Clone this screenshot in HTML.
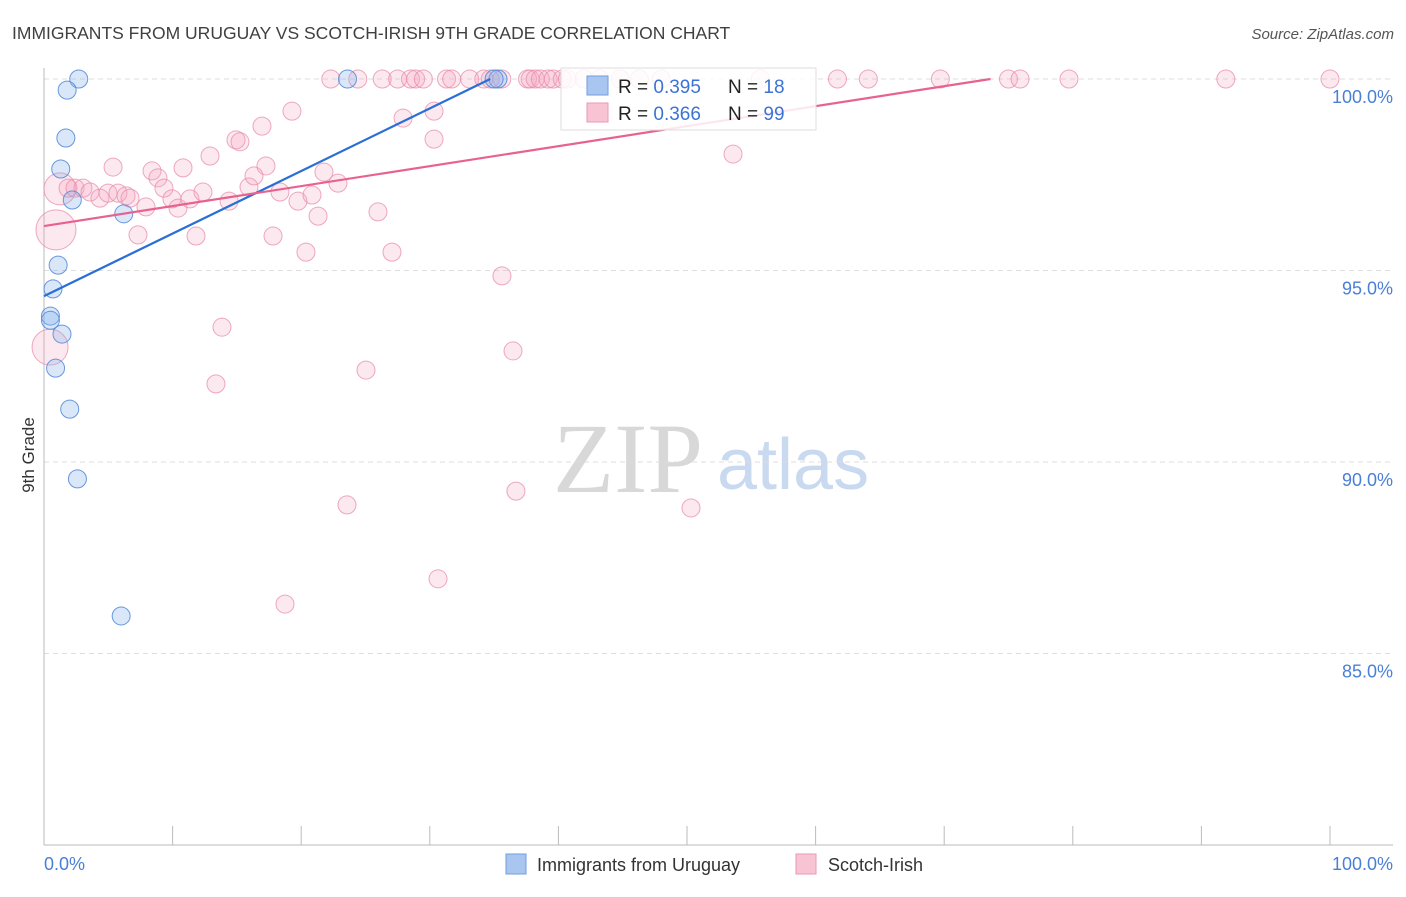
<!DOCTYPE html>
<html><head><meta charset="utf-8"><style>
body{margin:0;background:#fff;font-family:"Liberation Sans",sans-serif}
</style></head><body>
<svg id="chart" width="1406" height="892" viewBox="0 0 1406 892" font-family="Liberation Sans, sans-serif">
<text x="12" y="39" font-size="17.5" fill="#404040">IMMIGRANTS FROM URUGUAY VS SCOTCH-IRISH 9TH GRADE CORRELATION CHART</text>
<text x="1394" y="39" font-size="15" fill="#555" font-style="italic" text-anchor="end">Source: ZipAtlas.com</text>
<text x="34" y="455" font-size="17" fill="#333" text-anchor="middle" transform="rotate(-90 34 455)">9th Grade</text>
<g>
<text x="553" y="492" font-size="100" fill="#d8d8d8" style="font-family:'Liberation Serif',serif">ZIP</text>
<text x="717" y="489" font-size="72" fill="#c9d9f0">atlas</text>
</g>
<g id="grid"></g>
<g id="axes"></g>
<g id="pts"></g>
<g id="lines"></g>
<g>
<rect x="561" y="68" width="255" height="62" fill="#fff" fill-opacity="0.85" stroke="#ddd"/>
<rect x="587" y="76" width="21" height="19" fill="#a9c6f0" stroke="#6f9de0"/>
<text x="618" y="93" font-size="19" fill="#222">R = <tspan fill="#3b73d6">0.395</tspan></text>
<text x="728" y="93" font-size="19" fill="#222">N = <tspan fill="#3b73d6"> 18</tspan></text>
<rect x="587" y="103" width="21" height="19" fill="#f8c4d3" stroke="#e99ab2"/>
<text x="618" y="120" font-size="19" fill="#222">R = <tspan fill="#3b73d6">0.366</tspan></text>
<text x="728" y="120" font-size="19" fill="#222">N = <tspan fill="#3b73d6">99</tspan></text>
</g>
<g>
<rect x="506" y="854" width="20" height="20" fill="#a9c6f0" stroke="#6f9de0"/>
<text x="537" y="871" font-size="18" fill="#333">Immigrants from Uruguay</text>
<rect x="796" y="854" width="20" height="20" fill="#f8c4d3" stroke="#e99ab2"/>
<text x="828" y="871" font-size="18" fill="#333">Scotch-Irish</text>
</g>
</svg>
<script>
const yTicks=[100,95,90,85];
const yTickLabels=["100.0%","95.0%","90.0%","85.0%"];
const xTickLabels=["0.0%","100.0%"];
const blueX=[2.7,1.8,1.7,1.3,2.2,6.2,1.1,0.7,0.5,0.5,1.4,0.9,2.0,2.6,6.0,23.6,35.3,35.0];
const blueY=[100,99.71,98.46,97.65,96.84,96.48,95.14,94.52,93.81,93.7,93.34,92.45,91.38,89.56,85.98,100,100,100];
const pinkX=[1.24,0.93,0.47,1.87,2.41,3.03,3.58,4.35,4.98,5.37,5.75,6.38,6.69,7.31,7.93,8.40,8.86,9.33,9.95,10.42,10.81,11.35,11.82,12.36,12.91,13.37,13.84,14.39,14.93,15.24,15.94,16.33,16.95,17.26,17.81,18.35,18.74,19.28,19.75,20.37,20.84,21.31,21.77,22.86,23.56,25.04,25.97,27.06,27.92,30.33,30.33,30.64,35.61,36.47,36.70,50.31,53.58,
22.3,24.4,26.3,27.5,28.5,28.9,29.5,31.3,31.7,33.1,34.2,34.7,35.6,37.6,37.8,38.2,38.6,39.2,39.6,40.3,40.7,42.0,43.2,44.8,46.3,48.0,55.7,61.7,64.1,69.7,75.0,75.9,79.7,91.9,100];
const pinkY=[97.13,96.06,93.0,97.15,97.15,97.15,97.05,96.89,97.02,97.70,97.02,96.95,96.89,95.93,96.66,97.60,97.42,97.15,96.87,96.63,97.68,96.87,95.90,97.05,97.99,92.04,93.52,96.81,98.41,98.36,97.18,97.47,98.77,97.73,95.90,97.05,86.29,99.16,96.81,95.48,96.97,96.42,97.57,97.28,88.88,92.40,96.53,95.48,98.98,99.16,98.43,86.95,94.86,92.90,89.24,88.80,98.04,
100,100,100,100,100,100,100,100,100,100,100,100,100,100,100,100,100,100,100,100,100,100,100,100,100,100,100,100,100,100,100,100,100,100,100];
const pinkBig=[16,20,18];
const blueTrend=[[0,94.33],[34.7,100]];
const pinkTrend=[[0,96.16],[73.6,100]];

const NS="http://www.w3.org/2000/svg";
const X=v=>44+v*12.86, Y=v=>79+(100-v)*38.3;
function mk(tag,attrs,parent){const e=document.createElementNS(NS,tag);for(const k in attrs)e.setAttribute(k,attrs[k]);document.getElementById(parent).appendChild(e);return e;}
yTicks.forEach((t,i)=>{
 const g=mk('line',{x1:44,x2:1393,y1:Y(t),y2:Y(t),stroke:'#ddd','stroke-dasharray':'5,4'},'grid');
 
 
 const l=mk('text',{x:1393,y:Y(t)+24,'font-size':18,fill:'#4a7fd6','text-anchor':'end'},'grid');
 l.textContent=yTickLabels[i];
 
 
});
const ya=mk('line',{x1:44,x2:44,y1:68,y2:845,stroke:'#bbb'},'axes');


const xa=mk('line',{x1:44,x2:1393,y1:845,y2:845,stroke:'#bbb'},'axes');


for(let k=0;k<=10;k++){
 const t=mk('line',{x1:X(k*10),x2:X(k*10),y1:826,y2:845,stroke:'#bbb'},'axes');
 
 
}
const xl0=mk('text',{x:44,y:870,'font-size':18,fill:'#4a7fd6'},'axes');xl0.textContent=xTickLabels[0];


const xl1=mk('text',{x:1393,y:870,'font-size':18,fill:'#4a7fd6','text-anchor':'end'},'axes');xl1.textContent=xTickLabels[1];


pinkX.forEach((v,i)=>{
 const c=mk('circle',{cx:X(v),cy:Y(pinkY[i]),r:i<pinkBig.length?pinkBig[i]:9,fill:'rgba(244,165,190,0.25)',stroke:'rgba(232,140,170,0.75)','stroke-width':1},'pts');
 
 
});
blueX.forEach((v,i)=>{
 const c=mk('circle',{cx:X(v),cy:Y(blueY[i]),r:9,fill:'rgba(130,175,235,0.3)',stroke:'rgba(80,135,215,0.85)','stroke-width':1},'pts');
 
 
});
const bl=mk('line',{x1:X(blueTrend[0][0]),y1:Y(blueTrend[0][1]),x2:X(blueTrend[1][0]),y2:Y(blueTrend[1][1]),stroke:'#2a6fd6','stroke-width':2.2},'lines');


const pl=mk('line',{x1:X(pinkTrend[0][0]),y1:Y(pinkTrend[0][1]),x2:X(pinkTrend[1][0]),y2:Y(pinkTrend[1][1]),stroke:'#e8628f','stroke-width':2.2},'lines');


</script>
</body></html>
